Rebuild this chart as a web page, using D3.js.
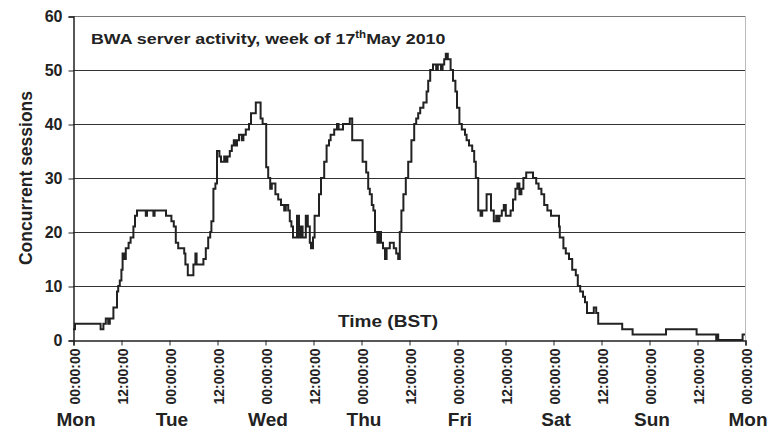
<!DOCTYPE html>
<html>
<head>
<meta charset="utf-8">
<script src="https://cdn.jsdelivr.net/npm/d3@7"></script>
<style>
  body { margin: 0; background: #fff; }
  text { font-family: "Liberation Sans", Arial, sans-serif; font-weight: bold; fill: #222; }
</style>
</head>
<body>
<div id="chart"></div>
<script>
// hours since Monday 00:00, and the session count from that hour on (step data)
var hours = [0, 0.5, 6.9, 7.6, 8.2, 8.8, 9.2, 10.1, 11, 11.3, 11.7, 12.1, 12.4, 12.8, 13.2, 13.9, 14.4, 15.1, 15.5, 16,
  18.2, 18.5, 20.1, 20.4, 23.25, 24.6, 25.2, 25.7, 26.3, 27.8, 28.1, 28.7, 30.1, 30.6, 30.9, 32.6, 33.2, 33.8, 34.3, 34.6,
  35.1, 35.6, 36, 36.6, 37, 37.8, 38.2, 38.6, 39.2, 39.7, 40.2, 40.6, 41, 41.5, 42.2, 42.6, 43.2, 44, 44.5, 45.7,
  46.9, 47.4, 48.3, 48.8, 49.3, 49.7, 50.6, 51.3, 52, 52.8, 53.2, 53.8, 54.2, 54.6, 55, 56, 56.5, 57, 57.4, 58.2,
  58.7, 59.2, 59.5, 60, 60.4, 61.5, 62, 62.8, 63.4, 64, 64.4, 65.3, 66, 66.4, 67.5, 69.2, 69.8, 72.4, 73.3, 73.8,
  74.2, 74.7, 75.1, 75.5, 76.1, 76.6, 77, 77.5, 78, 78.4, 79.2, 80.2, 80.8, 81.3, 81.7, 82.1, 82.6, 83.2, 83.8, 84.6,
  85.3, 85.8, 86.3, 86.8, 87.6, 88.4, 88.8, 89.3, 90, 90.8, 91.2, 92, 92.4, 92.8, 93.2, 93.7, 94.4, 95, 95.6, 96,
  96.6, 97.2, 98, 98.4, 99, 99.8, 100.3, 100.7, 101.3, 101.9, 102.3, 103.4, 104.5, 105.2, 105.8, 106.2, 106.6, 107.2, 107.7, 108.2,
  109.4, 110, 110.6, 111.1, 111.6, 112.1, 112.6, 113.3, 115, 115.8, 116.4, 117.1, 117.8, 118.6, 119.5, 121.5, 121.7, 122.6, 123.2, 124,
  124.8, 125.7, 126.2, 126.8, 127.5, 128, 128.5, 130.2, 130.8, 131.3, 137.3, 139.9, 148.25, 155.9, 160.8, 161, 161.3, 167.4, 168];
var sessions = [2, 3, 2, 3, 4, 3, 4, 6, 9, 10, 11, 13, 16, 15, 17, 18, 19, 21, 23, 24,
  23, 24, 23, 24, 23, 22, 21, 18, 17, 16, 14, 12, 14, 16, 14, 15, 17, 19, 20, 22,
  28, 29, 35, 34, 33, 34, 33, 34, 35, 36, 37, 36, 37, 38, 37, 38, 39, 40, 42, 44,
  41, 40, 32, 30, 28, 29, 27, 26, 25, 24, 25, 24, 22, 21, 19, 23, 19, 21, 19, 23,
  21, 18, 17, 19, 23, 27, 30, 33, 36, 37, 38, 39, 40, 39, 40, 41, 37, 33, 31, 28,
  27, 25, 24, 20, 18, 20, 18, 17, 15, 17, 18, 17, 16, 15, 20, 24, 27, 30, 33, 37,
  40, 41, 42, 43, 44, 46, 48, 50, 51, 50, 51, 50, 51, 52, 53, 52, 50, 48, 46, 43,
  40, 39, 38, 37, 36, 35, 33, 30, 24, 23, 24, 27, 24, 22, 23, 22, 23, 24, 25, 23,
  24, 26, 28, 29, 27, 28, 30, 31, 30, 29, 28, 27, 25, 24, 23, 21, 19, 17, 16, 15,
  13, 12, 10, 9, 8, 7, 5, 6, 5, 3, 2, 1, 2, 1, 0, 1, 0, 1, 1];

var yTicks = [0, 10, 20, 30, 40, 50, 60];
var xTicks = [0, 12, 24, 36, 48, 60, 72, 84, 96, 108, 120, 132, 144, 156, 168];
var dayNames = ["Mon", "Tue", "Wed", "Thu", "Fri", "Sat", "Sun", "Mon"];

function draw() {
  var width = 769, height = 429;
  var mLeft = 73, mRight = 745, mTop = 16, mBottom = 340;

  var svg = d3.select("#chart").append("svg")
    .attr("width", width)
    .attr("height", height);

  var x = d3.scaleLinear().domain([0, 168]).range([mLeft, mRight]);
  var y = d3.scaleLinear().domain([0, 60]).range([mBottom, mTop]);

  // gridlines (top one doubles as the frame)
  svg.append("g")
    .selectAll("line")
    .data(yTicks.filter(function (d) { return d > 0; }))
    .enter()
    .append("line")
    .attr("x1", mLeft).attr("x2", mRight)
    .attr("y1", function (d) { return y(d) + 0.5; })
    .attr("y2", function (d) { return y(d) + 0.5; })
    .attr("stroke", function (d) { return d == 60 ? "#777" : "#333"; })
    .attr("stroke-width", 1);

  // right border
  svg.append("line")
    .attr("x1", mRight + 0.5).attr("x2", mRight + 0.5)
    .attr("y1", mTop).attr("y2", mBottom)
    .attr("stroke", "#bbb");

  // y axis
  var yAxis = svg.append("g")
    .attr("transform", "translate(" + (mLeft + 0.5) + ",0.5)")
    .call(d3.axisLeft(y).tickValues(yTicks).tickSize(5).tickPadding(6));
  yAxis.select(".domain").attr("stroke", "#222").attr("stroke-width", 1.5);
  yAxis.selectAll(".tick line").attr("stroke", "#222");
  yAxis.selectAll(".tick text")
    .style("font-size", "16px")
    .attr("fill", "#222");

  // x axis
  var xAxis = svg.append("g")
    .attr("transform", "translate(0.5," + (mBottom + 0.5) + ")")
    .call(d3.axisBottom(x).tickValues(xTicks).tickSize(5).tickFormat(function (d) {
      return d % 24 == 0 ? "00:00:00" : "12:00:00";
    }));
  xAxis.select(".domain").attr("stroke", "#222").attr("stroke-width", 1.5);
  xAxis.selectAll(".tick line").attr("stroke", "#222");
  xAxis.selectAll(".tick text")
    .style("font-size", "14px")
    .attr("fill", "#222")
    .attr("text-anchor", "end")
    .attr("dy", null)
    .attr("y", 0)
    .attr("transform", "translate(6,8) rotate(-90)");

  // day labels
  svg.append("g")
    .selectAll("text")
    .data(dayNames)
    .enter()
    .append("text")
    .attr("x", function (d, i) { return x(i * 24) + 3; })
    .attr("y", 426)
    .attr("text-anchor", "middle")
    .style("font-size", "19px")
    .text(function (d) { return d; });

  // the step line
  var line = d3.line()
    .x(function (d, i) { return x(hours[i]); })
    .y(function (d) { return y(d); })
    .curve(d3.curveStepAfter);

  svg.append("path")
    .datum(sessions)
    .attr("d", line)
    .attr("fill", "none")
    .attr("stroke", "#222")
    .attr("stroke-width", 2);

  // title
  var title = svg.append("g")
    .attr("transform", "translate(91,44) scale(1.15,1)")
    .append("text")
    .style("font-size", "15.5px");
  title.append("tspan").text("BWA server activity, week of 17");
  title.append("tspan").attr("dy", -6).style("font-size", "10px").text("th");
  title.append("tspan").attr("dy", 6).text("May 2010");

  // axis titles
  svg.append("g")
    .attr("transform", "translate(388,327) scale(1.12,1)")
    .append("text")
    .attr("text-anchor", "middle")
    .style("font-size", "17px")
    .text("Time (BST)");

  svg.append("text")
    .attr("transform", "translate(32,178) rotate(-90)")
    .attr("text-anchor", "middle")
    .style("font-size", "17.5px")
    .text("Concurrent sessions");
}

draw();
</script>
</body>
</html>
